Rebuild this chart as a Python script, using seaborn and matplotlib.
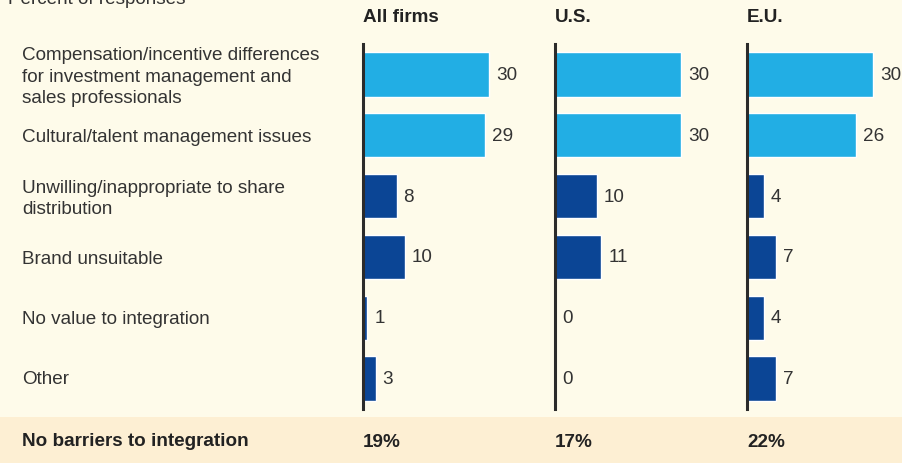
import pandas as pd
import matplotlib.pyplot as plt
import seaborn as sns

# Barriers to integration, percent of responses
barriers = [
    "Compensation/incentive differences\nfor investment management and\nsales professionals",
    "Cultural/talent management issues",
    "Unwilling/inappropriate to share\ndistribution",
    "Brand unsuitable",
    "No value to integration",
    "Other",
]
groups = ["All firms", "U.S.", "E.U."]
all_firms = [30, 29, 8, 10, 1, 3]
us = [30, 30, 10, 11, 0, 0]
eu = [30, 26, 4, 7, 4, 7]
no_barriers = ["19%", "17%", "22%"]

bar_kind = ["people", "people", "other", "other", "other", "other"]
palette = {"people": "#22AEE4", "other": "#0B4595"}

bg = "#FEFBEA"
band = "#FDEFD3"
txt = "#333333"
fs = 13.6

sns.set_theme(style="white")
plt.rcParams["font.family"] = ["Liberation Sans", "DejaVu Sans"]

fig = plt.figure(figsize=(9.02, 4.64), dpi=100)
fig.patch.set_facecolor(bg)

W, H = 902, 464
# bottom band
fig.patches.append(plt.Rectangle((0, 0), 1, 46 / H, transform=fig.transFigure,
                                 facecolor=band, edgecolor="none", zorder=0))

fig.text(22 / W, 1 - 441 / H, "No barriers to integration", fontsize=fs,
         fontweight="bold", color="#222222", va="center", ha="left")

fig.text(8 / W, 1 + 1 / H, "Percent of responses", fontsize=fs, color=txt,
         va="center", ha="left")

lefts = [363, 555, 747]
panel_w = 190
top_px, bot_px = 45, 410
series = [all_firms, us, eu]

for i, (g, vals) in enumerate(zip(groups, series)):
    ax = fig.add_axes([lefts[i] / W, 1 - bot_px / H, panel_w / W, (bot_px - top_px) / H])
    ax.set_facecolor("none")
    df = pd.DataFrame({"barrier": barriers, "value": vals, "kind": bar_kind})
    sns.barplot(data=df, x="value", y="barrier", hue="kind", palette=palette,
                dodge=False, width=0.73, saturation=1, legend=False, ax=ax)
    ax.set_xlim(0, 45.2)
    ax.set_ylim(5.5, -0.5)
    ax.set_xlabel("")
    ax.set_ylabel("")
    ax.set_xticks([])
    ax.set_yticks([])
    for s in ["top", "right", "bottom"]:
        ax.spines[s].set_visible(False)
    ax.spines["left"].set_color("#2B2B2B")
    ax.spines["left"].set_linewidth(2.2)
    for container in ax.containers:
        ax.bar_label(container, fmt="%d", padding=5, fontsize=fs, color=txt)
    fig.text(lefts[i] / W, 1 - 18 / H, g, fontsize=fs, fontweight="bold",
             color="#222222", va="center", ha="left")
    fig.text(lefts[i] / W, 1 - 443 / H, no_barriers[i], fontsize=fs,
             fontweight="bold", color="#222222", va="center", ha="left")

# category labels, row centres line up with the bars
row_px = [77, 138, 199, 259, 320, 380]
for lab, y in zip(barriers, row_px):
    fig.text(22 / W, 1 - y / H, lab, fontsize=fs, color=txt, va="center",
             ha="left", linespacing=1.32)

fig.savefig("out.png", dpi=100, facecolor=bg)
